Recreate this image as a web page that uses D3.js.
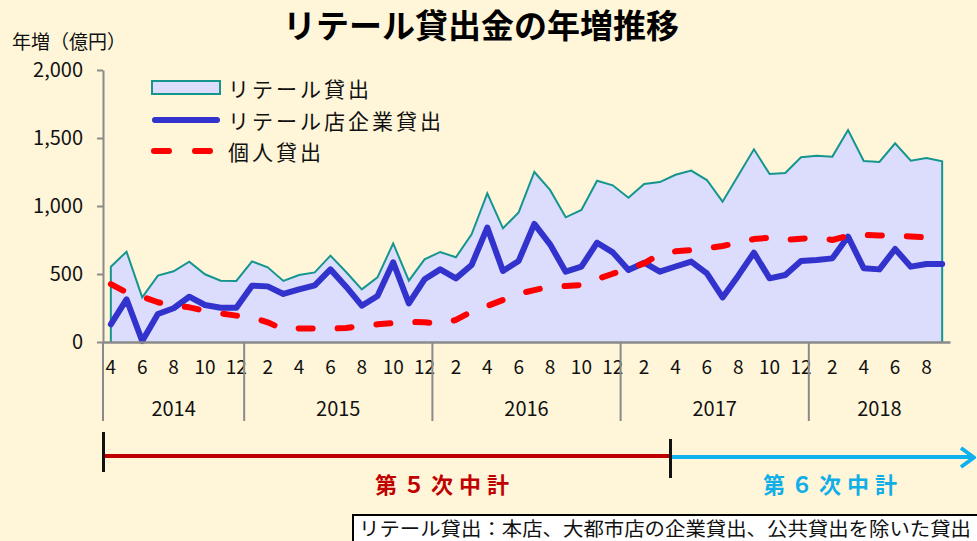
<!DOCTYPE html>
<html>
<head>
<meta charset="utf-8">
<script src="https://cdn.jsdelivr.net/npm/d3@7"></script>
<style>
  body { margin: 0; background: #fff5d8; }
  svg { display: block; }
  text { font-family: "Noto Sans CJK JP", sans-serif; }
</style>
</head>
<body>
<script>
// months Apr 2014 - Sep 2018
var months = [
  "2014-04","2014-05","2014-06","2014-07","2014-08","2014-09","2014-10","2014-11","2014-12",
  "2015-01","2015-02","2015-03","2015-04","2015-05","2015-06","2015-07","2015-08","2015-09","2015-10","2015-11","2015-12",
  "2016-01","2016-02","2016-03","2016-04","2016-05","2016-06","2016-07","2016-08","2016-09","2016-10","2016-11","2016-12",
  "2017-01","2017-02","2017-03","2017-04","2017-05","2017-06","2017-07","2017-08","2017-09","2017-10","2017-11","2017-12",
  "2018-01","2018-02","2018-03","2018-04","2018-05","2018-06","2018-07","2018-08","2018-09"
];
var years = ["2014", "2015", "2016", "2017", "2018"];
var yTicks = [0, 500, 1000, 1500, 2000];

// 年増 (億円)
var retail = [554,664,328,488,520,591,498,451,449,593,549,449,493,512,635,515,387,475,
  725,451,608,662,623,792,1093,836,953,1250,1118,917,971,1186,1152,1061,1162,1176,
  1230,1260,1191,1032,1225,1417,1235,1243,1358,1370,1363,1559,1331,1324,1461,1333,1353,1328];
var corporate = [130,314,7,206,248,333,272,252,252,414,409,353,387,417,534,407,267,338,
  586,284,461,534,468,566,841,522,596,868,718,517,554,730,659,529,583,517,
  555,591,505,328,488,657,468,493,596,603,615,775,542,534,684,554,574,574];
var personal = [426,365,333,292,267,255,230,211,194,181,145,93,100,100,98,103,118,130,
  140,147,145,132,162,223,265,309,355,382,407,412,419,463,502,537,578,647,
  667,676,689,706,730,757,767,750,760,767,750,782,787,784,782,775,770,757];

var legendNames = ["リテール貸出", "リテール店企業貸出", "個人貸出"];

var W = 977, H = 541;
var teal = "#14968f", areaFill = "#dcdcfd", blue = "#3232cc", red = "#ff0000", grey = "#8a8a8a";

var svg = d3.select("body").append("svg")
    .attr("width", W)
    .attr("height", H);

svg.append("rect").attr("width", W).attr("height", H).attr("fill", "#fff5d8");

var x = d3.scaleBand()
    .domain(months)
    .range([103, 950]);

var y = d3.scaleLinear()
    .domain([0, 2000])
    .range([342, 70]);

function cx(d, i) { return x(months[i]) + x.bandwidth() / 2; }

// area
var area = d3.area()
    .x(cx)
    .y0(y(0))
    .y1(function(d) { return y(d); });

var areaTop = d3.line()
    .x(cx)
    .y(function(d) { return y(d); });

svg.append("path")
    .datum(retail)
    .attr("d", area)
    .attr("fill", areaFill)
    .attr("stroke", "none");

// teal outline incl. vertical ends
var first = cx(null, 0), last = cx(null, retail.length - 1);
svg.append("path")
    .attr("d", "M" + first + "," + y(0) + "L" + areaTop(retail).slice(1) + "L" + last + "," + y(0))
    .attr("fill", "none")
    .attr("stroke", teal)
    .attr("stroke-width", 2);

// blue line
svg.append("path")
    .datum(corporate)
    .attr("d", areaTop)
    .attr("fill", "none")
    .attr("stroke", blue)
    .attr("stroke-width", 6)
    .attr("stroke-linejoin", "round")
    .attr("stroke-linecap", "round");

// red dashed
svg.append("path")
    .datum(personal)
    .attr("d", areaTop)
    .attr("fill", "none")
    .attr("stroke", red)
    .attr("stroke-width", 6)
    .attr("stroke-dasharray", "14,25")
    .attr("stroke-linejoin", "round")
    .attr("stroke-linecap", "round");

// y axis
var yAxis = d3.axisLeft(y)
    .tickValues(yTicks)
    .tickSize(6)
    .tickSizeOuter(0)
    .tickPadding(14)
    .tickFormat(d3.format(","));

var gy = svg.append("g")
    .attr("transform", "translate(103,0)")
    .call(yAxis);
gy.selectAll("text").style("font-size", "20px").style("fill", "#111");
gy.selectAll("line").attr("stroke", grey).attr("stroke-width", 2);
gy.select(".domain").attr("stroke", grey).attr("stroke-width", 2);

// x axis (months)
var xAxis = d3.axisBottom(x)
    .tickValues(months.filter(function(m) { return +m.slice(5) % 2 === 0; }))
    .tickSize(0)
    .tickPadding(19)
    .tickFormat(function(m) { return +m.slice(5); });

var gx = svg.append("g")
    .attr("transform", "translate(0," + y(0) + ")")
    .call(xAxis);
gx.selectAll("text").style("font-size", "19px").style("fill", "#111");
gx.select(".domain").attr("stroke", grey).attr("stroke-width", 2.5);

// axis line extension below plot
svg.append("line")
    .attr("x1", 103).attr("x2", 103)
    .attr("y1", y(0)).attr("y2", 421)
    .attr("stroke", grey).attr("stroke-width", 2);

// year dividers and labels
years.forEach(function(yr, k) {
  var ms = months.filter(function(m) { return m.slice(0, 4) === yr; });
  var x0 = x(ms[0]), x1 = x(ms[ms.length - 1]) + x.bandwidth();
  if (k > 0) {
    svg.append("line")
        .attr("x1", x0).attr("x2", x0)
        .attr("y1", y(0)).attr("y2", 421)
        .attr("stroke", grey).attr("stroke-width", 2);
  }
  svg.append("text")
      .attr("x", (x0 + x1) / 2)
      .attr("y", 416)
      .attr("text-anchor", "middle")
      .style("font-size", "20px")
      .style("fill", "#111")
      .text(yr);
});

// title and unit
svg.append("text")
    .attr("x", 481)
    .attr("y", 38)
    .attr("text-anchor", "middle")
    .style("font-size", "33px")
    .style("font-weight", "bold")
    .style("fill", "#000")
    .text("リテール貸出金の年増推移");

svg.append("text")
    .attr("x", 12)
    .attr("y", 49)
    .style("font-size", "19px")
    .style("fill", "#111")
    .text("年増（億円）");

// legend
var lg = svg.append("g");
lg.append("rect")
    .attr("x", 152).attr("y", 81)
    .attr("width", 68).attr("height", 13)
    .attr("fill", areaFill)
    .attr("stroke", teal).attr("stroke-width", 2);
lg.append("line")
    .attr("x1", 155).attr("x2", 217)
    .attr("y1", 120).attr("y2", 120)
    .attr("stroke", blue).attr("stroke-width", 6).attr("stroke-linecap", "round");
lg.append("line")
    .attr("x1", 154).attr("x2", 210)
    .attr("y1", 151).attr("y2", 151)
    .attr("stroke", red).attr("stroke-width", 6)
    .attr("stroke-dasharray", "15,26").attr("stroke-linecap", "round");
lg.selectAll("text.leg")
    .data(legendNames)
    .enter().append("text")
    .attr("class", "leg")
    .attr("x", 228)
    .attr("y", function(d, i) { return 97 + i * 31.5; })
    .style("font-size", "21px")
    .style("letter-spacing", "3px")
    .style("fill", "#111")
    .text(function(d) { return d; });

// plan timeline
svg.append("line")
    .attr("x1", 104).attr("x2", 670).attr("y1", 456).attr("y2", 456)
    .attr("stroke", "#c00000").attr("stroke-width", 4);
svg.append("path")
    .attr("d", "M670,457L973,457M961,448L974,457.5L961,467")
    .attr("fill", "none")
    .attr("stroke", "#0fb0ee").attr("stroke-width", 4).attr("stroke-linejoin", "round");
svg.append("line")
    .attr("x1", 103.5).attr("x2", 103.5).attr("y1", 432).attr("y2", 472)
    .attr("stroke", "#111").attr("stroke-width", 3);
svg.append("line")
    .attr("x1", 670.5).attr("x2", 670.5).attr("y1", 439).attr("y2", 478)
    .attr("stroke", "#111").attr("stroke-width", 3);

svg.append("text")
    .attr("x", 375).attr("y", 493)
    .style("font-size", "22px").style("font-weight", "bold")
    .style("letter-spacing", "6px")
    .style("fill", "#c00000")
    .text("第５次中計");
svg.append("text")
    .attr("x", 763).attr("y", 493)
    .style("font-size", "22px").style("font-weight", "bold")
    .style("letter-spacing", "6px")
    .style("fill", "#11aee8")
    .text("第６次中計");

// note box
svg.append("rect")
    .attr("x", 353).attr("y", 515)
    .attr("width", 640).attr("height", 40)
    .attr("fill", "#fff")
    .attr("stroke", "#000").attr("stroke-width", 2);
svg.append("text")
    .attr("x", 359).attr("y", 536)
    .attr("textLength", 612)
    .attr("lengthAdjust", "spacingAndGlyphs")
    .style("font-size", "19px")
    .style("fill", "#111")
    .text("リテール貸出：本店、大都市店の企業貸出、公共貸出を除いた貸出");
</script>
</body>
</html>
